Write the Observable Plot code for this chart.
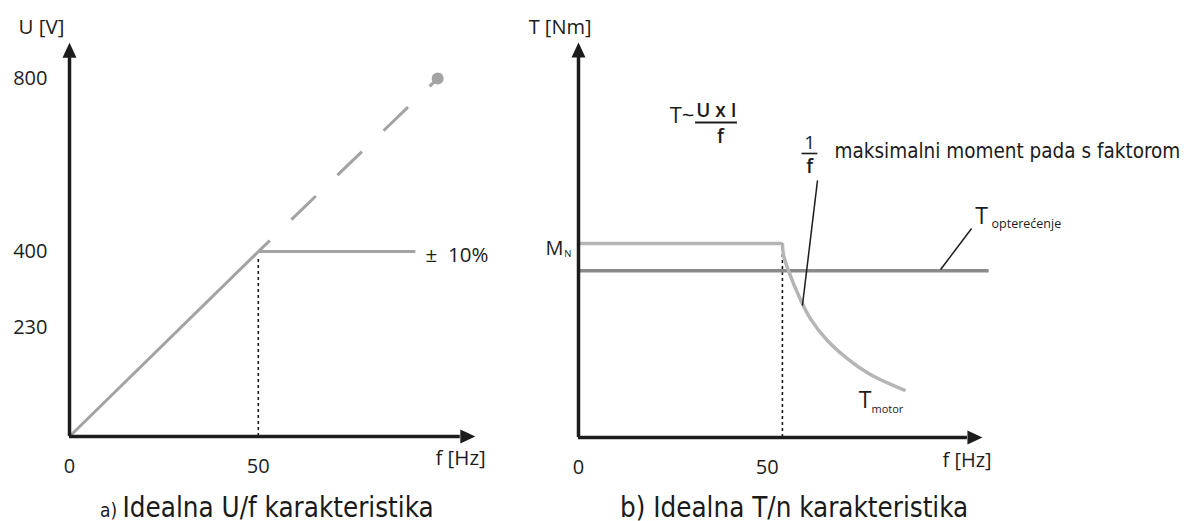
<!DOCTYPE html>
<html><head><meta charset="utf-8">
<script src="https://cdn.jsdelivr.net/npm/d3@7"></script>
<script src="https://cdn.jsdelivr.net/npm/@observablehq/plot@0.6"></script>
<style>
body{margin:0;background:#fff;width:1188px;height:521px;overflow:hidden;position:relative;font-family:"Open Sans",sans-serif;}
#a{position:absolute;left:0;top:0}
#b{position:absolute;left:510px;top:0}
.cap{position:absolute;font-family:"DejaVu Sans Condensed","DejaVu Sans",sans-serif;font-stretch:condensed;font-size:27.5px;line-height:27px;color:#1a1a1a;white-space:nowrap}
.cap .s{font-size:19px}
</style></head><body>
<div id="a"></div><div id="b"></div>
<div class="cap" style="left:100px;top:494px"><span class="s">a) </span>Idealna U/f karakteristika</div>
<div class="cap" style="left:620px;top:494px">b) Idealna T/n karakteristika</div>
<script>
// ---------- data: a) U/f ----------
const ufFreq = [0, 50];
const ufVolt = [0, 400];
const ufExtFreq = [50, 97.5];
const ufExtVolt = [400, 800];
const ufLimitFreq = [50, 91.6];
const ufLimitVolt = [400, 400];
const uTicks = [230, 400, 800];
const fTicks = [0, 50];
const nominalFreqA = 50;
const nominalVoltA = 389;
const axisEndFA = 103.5;
const axisEndUA = 849;
const labelTextA = ["U [V]", "±  10%", "f [Hz]"];
const labelFA = [-13.5, 94.3, 96.9];
const labelUA = [920, 391, -43];

// ---------- data: b) T/n ----------
const motorFlatF = [0, 54];
const motorFlatT = [100, 100];
const motorCurveF = [54, 54.3, 55.6, 58.8, 61.4, 65.9, 71.2, 77.3, 86.6];
const motorCurveT = [100, 94, 86, 71, 61.3, 50.0, 40.7, 32.5, 24.2];
const loadF = [0, 108.6];
const loadT = [86, 86];
const cornerF = 54;
const axisEndFB = 103;
const axisEndTB = 195.9;
const bigTextB = ["T [Nm]", "f [Hz]"];
const bigFB = [-13.2, 96.4];
const bigTB = [211.3, -11.9];
const leaderF1 = [63.3, 95.9];
const leaderT1 = [132.5, 86.6];
const leaderF2 = [59.3, 104.1];
const leaderT2 = [68.0, 107.7];

const ink = "#1c1c1c";
const font = "'Open Sans', 'Noto Sans', sans-serif";
const condFont = "'DejaVu Sans Condensed', 'DejaVu Sans', sans-serif";
const arrowUp = {draw(c) { c.moveTo(-7, 0); c.lineTo(0, -15); c.lineTo(7, 0); c.closePath(); }};
const arrowRight = {draw(c) { c.moveTo(0, -7); c.lineTo(15, 0); c.lineTo(0, 7); c.closePath(); }};
const pts = (xs, ys) => xs.map((x, i) => ({x, y: ys[i]}));
const one = (x, y) => [{x, y}];

const axes = (endF, endY) => [
  Plot.ruleY([0], {x1: 0, x2: endF, stroke: ink, strokeWidth: 3.5}),
  Plot.ruleX([0], {y1: 0, y2: endY, stroke: ink, strokeWidth: 3.5}),
  Plot.dot(one(endF, 0), {x: "x", y: "y", r: 5, symbol: arrowRight, fill: ink, stroke: "none"}),
  Plot.dot(one(0, endY), {x: "x", y: "y", r: 5, symbol: arrowUp, fill: ink, stroke: "none"})
];
const style = {fontFamily: font, fontSize: "20px", color: ink, background: "transparent", overflow: "visible"};

const plotA = Plot.plot({
  width: 510, height: 490,
  marginLeft: 69, marginBottom: 54, marginTop: 78, marginRight: 63.4,
  x: {domain: [0, 100], range: [69, 446.6]},
  y: {type: "pow", exponent: 0.953, domain: [0, 800], range: [436, 78], axis: null},
  style,
  marks: [
    Plot.ruleX([nominalFreqA], {y1: 0, y2: nominalVoltA, stroke: ink, strokeWidth: 1.6, strokeDasharray: "3,3"}),
    Plot.line(pts(ufExtFreq, ufExtVolt), {x: "x", y: "y", stroke: "#a3a3a3", strokeWidth: 3, strokeLinecap: "butt", strokeDasharray: "34,30", strokeDashoffset: 18}),
    Plot.dot(one(ufExtFreq[1], ufExtVolt[1]), {x: "x", y: "y", r: 6, fill: "#a3a3a3", stroke: "none"}),
    Plot.line(pts(ufFreq, ufVolt), {x: "x", y: "y", stroke: "#a3a3a3", strokeWidth: 3, strokeLinecap: "butt"}),
    Plot.line(pts(ufLimitFreq, ufLimitVolt), {x: "x", y: "y", stroke: "#a3a3a3", strokeWidth: 3, strokeLinecap: "butt"}),
    ...axes(axisEndFA, axisEndUA),
    Plot.axisX({ticks: fTicks, tickSize: 0, tickPadding: 22, label: null, fontSize: 20, fontFamily: font}),
    Plot.text(uTicks, {x: 0, y: (d) => d, text: (d) => String(d), textAnchor: "end", dx: -22, fontSize: 20, fontFamily: font, fill: ink}),
    Plot.text(labelTextA.map((t, i) => ({t, x: labelFA[i], y: labelUA[i]})), {x: "x", y: "y", text: "t", textAnchor: "start", fontSize: 20.5, fontFamily: font, fill: ink})
  ]
});
document.getElementById("a").append(plotA);

const plotB = Plot.plot({
  width: 678, height: 490,
  marginLeft: 68, marginBottom: 53, marginTop: 243, marginRight: 232.4,
  x: {domain: [0, 100], range: [68, 445.6]},
  y: {domain: [0, 100], range: [437, 243], axis: null},
  style,
  marks: [
    Plot.ruleX([cornerF], {y1: 0, y2: 100, stroke: ink, strokeWidth: 1.6, strokeDasharray: "3,3"}),
    Plot.line(pts(loadF, loadT), {x: "x", y: "y", stroke: "#8a8a8a", strokeWidth: 3.5, strokeLinecap: "butt"}),
    Plot.line(pts(motorFlatF, motorFlatT), {x: "x", y: "y", stroke: "#b5b5b5", strokeWidth: 3.5, strokeLinecap: "butt"}),
    Plot.line(pts(motorCurveF, motorCurveT), {x: "x", y: "y", stroke: "#b5b5b5", strokeWidth: 3.5, curve: "catmull-rom", strokeLinecap: "butt"}),
    Plot.link(leaderF1.map((f, i) => ({x1: f, y1: leaderT1[i], x2: leaderF2[i], y2: leaderT2[i]})), {x1: "x1", y1: "y1", x2: "x2", y2: "y2", stroke: ink, strokeWidth: 1.5}),
    ...axes(axisEndFB, axisEndTB),
    Plot.axisX({ticks: fTicks, tickSize: 0, tickPadding: 22, label: null, fontSize: 20, fontFamily: font}),
    Plot.text(bigTextB.map((t, i) => ({t, x: bigFB[i], y: bigTB[i]})), {x: "x", y: "y", text: "t", textAnchor: "start", fontSize: 20, fontFamily: font, fill: ink}),
    // M_N
    Plot.text(one(-4.0, 97.3), {x: "x", y: "y", text: () => "M", textAnchor: "end", fontSize: 20, fontFamily: font, fill: ink}),
    Plot.text(one(-3.8, 94.6), {x: "x", y: "y", text: () => "N", textAnchor: "start", fontSize: 9.5, fontFamily: font, fill: ink}),
    // T ~ (U x I)/f
    Plot.text(one(30.7, 165.5), {x: "x", y: "y", text: () => "T~", textAnchor: "end", fontSize: 22, fontFamily: font, fill: ink}),
    Plot.text(one(36.5, 168.6), {x: "x", y: "y", text: () => "U x I", textAnchor: "middle", fontSize: 19, fontWeight: 600, fontFamily: font, fill: ink}),
    Plot.ruleY([162.4], {x1: 31.0, x2: 42.1, stroke: ink, strokeWidth: 2}),
    Plot.text(one(37.6, 155.2), {x: "x", y: "y", text: () => "f", textAnchor: "middle", fontSize: 19, fontWeight: 600, fontFamily: font, fill: ink}),
    // 1/f annotation
    Plot.text(one(61.2, 151.6), {x: "x", y: "y", text: () => "1", textAnchor: "middle", fontSize: 19, fontFamily: font, fill: ink}),
    Plot.ruleY([146.4], {x1: 59.2, x2: 63.4, stroke: ink, strokeWidth: 1.6}),
    Plot.text(one(61.2, 139.3), {x: "x", y: "y", text: () => "f", textAnchor: "middle", fontSize: 19, fontWeight: 600, fontFamily: font, fill: ink}),
    Plot.text(one(67.8, 147.5), {x: "x", y: "y", text: () => "maksimalni moment pada s faktorom", textAnchor: "start", fontSize: 20.5, fontFamily: condFont, fill: ink}),
    // T_opterećenje
    Plot.text(one(105.1, 113.9), {x: "x", y: "y", text: () => "T", textAnchor: "start", fontSize: 23, fontFamily: font, fill: ink}),
    Plot.text(one(109.4, 110.3), {x: "x", y: "y", text: () => "opterećenje", textAnchor: "start", fontSize: 12.5, fontFamily: font, fill: ink}),
    // T_motor
    Plot.text(one(74.2, 19.1), {x: "x", y: "y", text: () => "T", textAnchor: "start", fontSize: 23, fontFamily: font, fill: ink}),
    Plot.text(one(77.6, 14.4), {x: "x", y: "y", text: () => "motor", textAnchor: "start", fontSize: 11, fontFamily: font, fill: ink})
  ]
});
document.getElementById("b").append(plotB);
</script>
</body></html>
